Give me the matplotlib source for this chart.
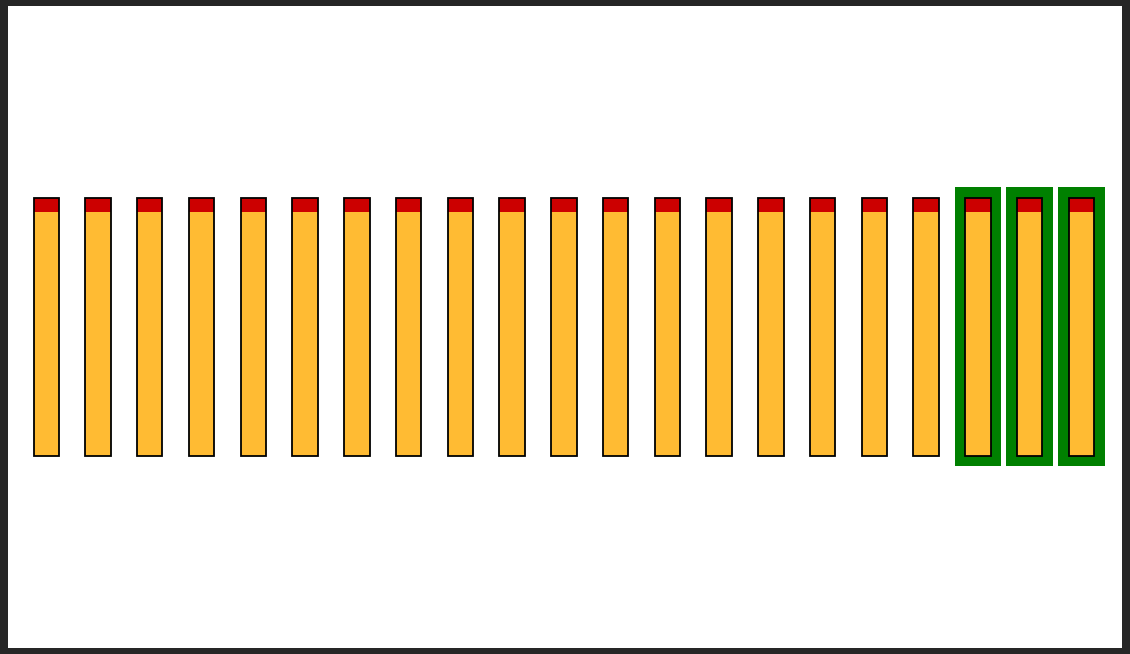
import numpy as np
import matplotlib.pyplot as plt

# 21 matches, the last three are framed in green
n_matches = 21
match_length = [1.0] * n_matches
head_length = 0.055
highlighted = [18, 19, 20]

positions = np.arange(n_matches)

fig = plt.figure(figsize=(11.3, 6.54), dpi=100, facecolor="#262626")
ax = fig.add_axes([8 / 1130, 6 / 654, 1114 / 1130, 642 / 654])
ax.set_facecolor("white")

# green frames behind the highlighted matches
hl = np.array(highlighted)
ax.bar(hl, [1.082] * len(hl), width=0.9, bottom=-0.04, color="#008000", linewidth=0, zorder=1)

length = np.array(match_length)
ax.bar(positions, length - head_length, width=0.49, color="#FFBB33", linewidth=0, zorder=2)
ax.bar(positions, [head_length] * n_matches, width=0.49, bottom=length - head_length,
       color="#CC0000", linewidth=0, zorder=2)
ax.bar(positions, length, width=0.49, fill=False, edgecolor="black", linewidth=1.3, zorder=3)

ax.set_xlim(-0.74, 20.785)
ax.set_ylim(-0.744, 1.744)
ax.set_xticks([])
ax.set_yticks([])
for s in ax.spines.values():
    s.set_visible(False)

fig.savefig("out.png", dpi=100, facecolor=fig.get_facecolor())
